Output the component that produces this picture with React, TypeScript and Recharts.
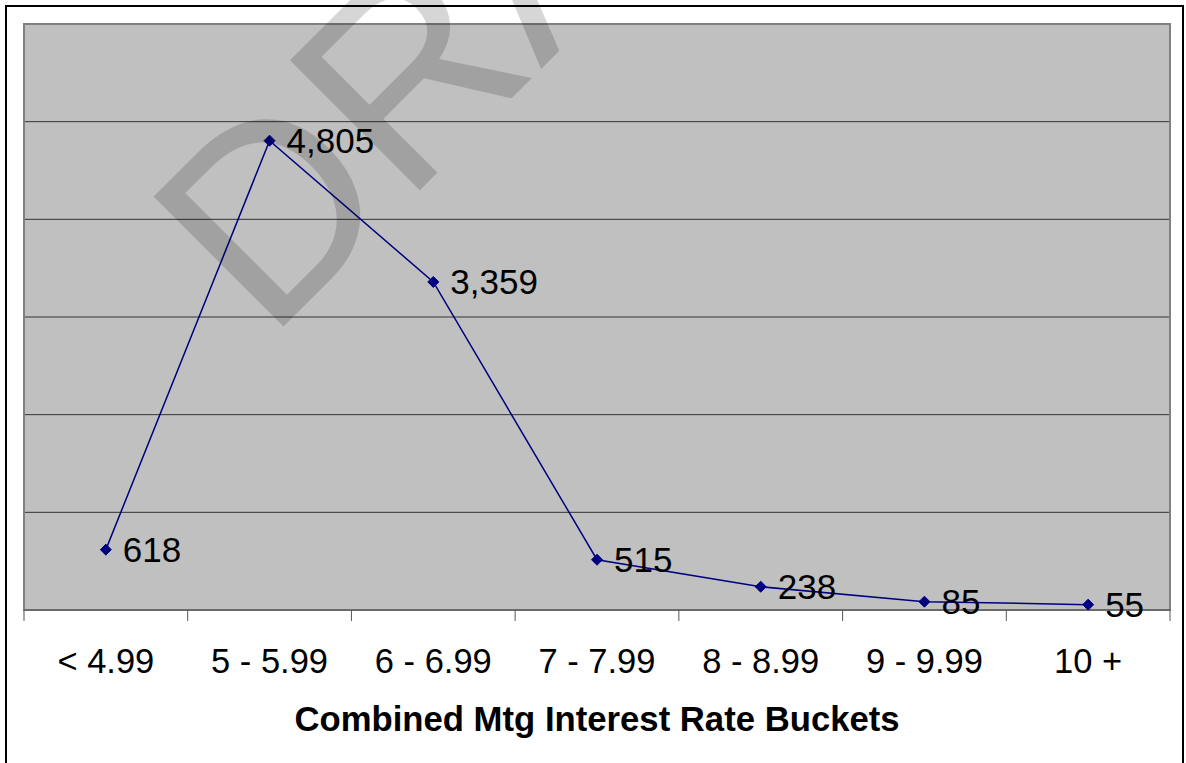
import React from 'react'
import {
  CartesianGrid,
  LabelList,
  Label,
  Line,
  LineChart,
  ReferenceArea,
  XAxis,
  YAxis,
} from 'recharts'

const buckets = ['< 4.99', '5 - 5.99', '6 - 6.99', '7 - 7.99', '8 - 8.99', '9 - 9.99', '10 +']
const loanCounts = [618, 4805, 3359, 515, 238, 85, 55]
const gridTicks = [0, 1000, 2000, 3000, 4000, 5000]
const edgeTicks = [0, 1, 2, 3, 4, 5, 6, 7]

const W = 1186
const H = 763
const MARGIN = { top: 24, right: 16, left: 24, bottom: 32 }
const AXIS_H = 121
const PLOT_W = W - MARGIN.left - MARGIN.right
const BAND = PLOT_W / buckets.length
const FONT = '"Liberation Sans", Arial, sans-serif'
const NAVY = '#000080'

// each bucket sits in the middle of its band, ticks mark the band edges
const data = buckets.map((b, i) => ({ pos: i + 0.5, bucket: b, count: loanCounts[i] }))

function BucketTick(props: any) {
  const { x, y, index } = props
  const name = buckets[index]
  if (!name) return <g />
  return (
    <text x={x + BAND / 2} y={y + 50} textAnchor="middle" fontSize={34.5} fontFamily={FONT} fill="#000">
      {name}
    </text>
  )
}

function Diamond(props: any) {
  const { cx, cy } = props
  if (cx == null || cy == null) return <g />
  const r = 5.5
  return (
    <polygon
      points={`${cx},${cy - r} ${cx + r},${cy} ${cx},${cy + r} ${cx - r},${cy}`}
      fill={NAVY}
      stroke={NAVY}
    />
  )
}

export default function App() {
  return (
    <div style={{ position: 'fixed', left: 0, top: 0, width: W, height: H, background: '#fff', overflow: 'hidden' }}>
      <div
        style={{
          position: 'absolute',
          left: 5,
          top: 5,
          width: 1179,
          height: 800,
          border: '2px solid #000',
          boxSizing: 'border-box',
        }}
      />
      <div style={{ position: 'absolute', left: 0, top: 0 }}>
        <LineChart width={W} height={H} data={data} margin={MARGIN}>
          <CartesianGrid vertical={false} fill="#C0C0C0" fillOpacity={1} stroke="#333" />
          <XAxis
            dataKey="pos"
            type="number"
            domain={[0, 7]}
            ticks={edgeTicks}
            interval={0}
            height={AXIS_H}
            tickSize={11}
            tickMargin={2}
            stroke="#555"
            tick={<BucketTick />}
          >
            <Label
              value="Combined Mtg Interest Rate Buckets"
              position="insideBottom"
              offset={0}
              style={{ fontSize: 34.7, fontWeight: 700, fontFamily: FONT, fill: '#000' }}
            />
          </XAxis>
          <YAxis hide domain={[0, 6000]} ticks={gridTicks} />
          <ReferenceArea x1={0} x2={7} y1={0} y2={6000} fill="none" stroke="#808080" strokeWidth={2} ifOverflow="visible" />
          <Line
            type="linear"
            dataKey="count"
            stroke={NAVY}
            strokeWidth={1.5}
            dot={<Diamond />}
            activeDot={false}
            isAnimationActive={false}
          >
            <LabelList
              dataKey="count"
              position="right"
              offset={17}
              formatter={(v: any) => Number(v).toLocaleString('en-US')}
              style={{ fontSize: 35, fontFamily: FONT, fill: '#000' }}
            />
          </Line>
        </LineChart>
      </div>
      {/* DRAFT watermark across the upper left of the page */}
      <svg width={W} height={H} style={{ position: 'absolute', left: 0, top: 0, pointerEvents: 'none' }}>
        <text
          x={268}
          y={342}
          transform="rotate(-45 268 342)"
          fontSize={267}
          fontFamily={FONT}
          fill="#000"
          fillOpacity={0.16}
        >
          DRAFT
        </text>
      </svg>
    </div>
  )
}
